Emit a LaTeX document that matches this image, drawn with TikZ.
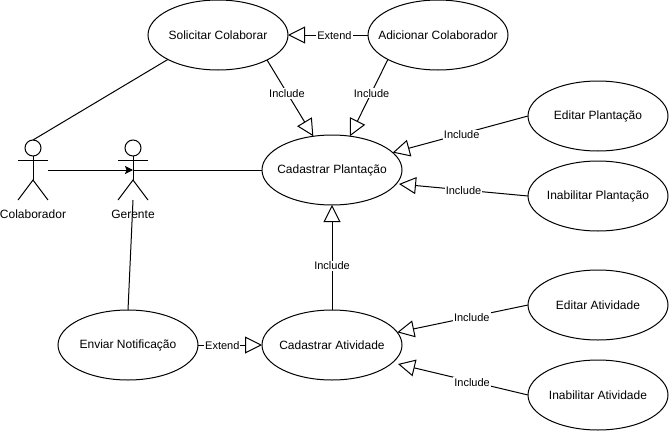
\documentclass[tikz,border=0pt]{standalone}
\usepackage{fontspec}
\setmainfont{Liberation Sans}
\usetikzlibrary{arrows.meta,shapes.geometric}

\tikzset{
    caso/.style={draw,ellipse,minimum width=140pt,minimum height=70pt,inner xsep=-15pt,inner ysep=0pt,outer sep=0pt,font=\fontsize{12}{14}\selectfont},
    relacao/.style={-{Triangle[open,length=17pt,width=17pt]},line join=miter},
    rotulo/.style={fill=white,inner sep=1pt,yshift=-.7pt,font=\fontsize{11}{13}\selectfont},
    ator/.style={draw,circle,minimum size=16pt,inner sep=0pt,outer sep=0pt},
    nomeator/.style={font=\fontsize{12}{14}\selectfont}
}

\begin{document}
\begin{tikzpicture}[x=1pt,y=-1pt,line width=1pt]
\useasboundingbox (0,0) rectangle (669,431);

% Use cases
\node[caso] (solicitar) at (218,35) {Solicitar Colaborar};
\node[caso] (adicionar) at (438,35) {Adicionar Colaborador};
\node[caso] (plantacao) at (332,170) {Cadastrar Plantação};
\node[caso] (editarplantacao) at (598,116) {Editar Plantação};
\node[caso] (inabilitarplantacao) at (598,196) {Inabilitar Plantação};
\node[caso] (atividade) at (332,345) {Cadastrar Atividade};
\node[caso] (enviar) at (128,345) {Enviar Notificação};
\node[caso] (editaratividade) at (598,305) {Editar Atividade};
\node[caso] (inabilitaratividade) at (598,395) {Inabilitar Atividade};

% Actors
\foreach \nome/\texto/\x in {colaborador/Colaborador/33,gerente/Gerente/133} {
    \node[nomeator] (\nome-texto) at (\x,214) {\texto};
    \node[ator] (\nome) at (\x,148) {};
    \coordinate (\nome-meio) at (\x,170);
    \coordinate (\nome-base) at (\x,180);
    \coordinate (\nome-esq) at (\x-15,160);
    \coordinate (\nome-dir) at (\x+15,160);
    \coordinate (\nome-peesq) at (\x-15,200);
    \coordinate (\nome-pedir) at (\x+15,200);
    \coordinate (\nome-pe) at (\x,200);
    \draw (\nome.south) -- (\nome-base);
    \draw (\nome-esq) -- (\nome-dir);
    \draw (\nome-peesq) -- (\nome-base) -- (\nome-pedir);
}
\coordinate (saida) at (48,170);

% Free arrow ends
\coordinate (pontaplantacao) at (399,184);
\coordinate (pontaatividade) at (398,364);

% Associations
\draw (solicitar.206) -- (colaborador.north);
\draw[-{Stealth[length=8pt,width=8pt,inset=1.5pt]}] (saida) -- (gerente-meio);
\draw (gerente-meio) -- (plantacao.west);
\draw (gerente-pe) -- (enviar.north);

% Include and extend
\draw[relacao] (adicionar.west) -- node[rotulo,pos=.42] (r1) {Extend} (solicitar.east);
\draw[relacao] (solicitar.333) -- node[rotulo,pos=.43] (r2) {Include} (plantacao.119);
\draw[relacao] (adicionar.206) -- node[rotulo,pos=.43] (r3) {Include} (plantacao.62);
\draw[relacao] (editarplantacao.west) -- node[rotulo,pos=.49] (r4) {Include} (plantacao.16);
\draw[relacao] (inabilitarplantacao.west) -- node[rotulo,pos=.5] (r5) {Include} (pontaplantacao);
\draw[relacao] (atividade.north) -- node[rotulo,pos=.43] (r6) {Include} (plantacao.south);
\draw[relacao] (enviar.east) -- node[rotulo,pos=.38] (r7) {Extend} (atividade.west);
\draw[relacao] (editaratividade.west) -- node[rotulo,pos=.43] (r8) {Include} (atividade.11);
\draw[relacao] (inabilitaratividade.west) -- node[rotulo,pos=.43] (r9) {Include} (pontaatividade);
\end{tikzpicture}
\end{document}
